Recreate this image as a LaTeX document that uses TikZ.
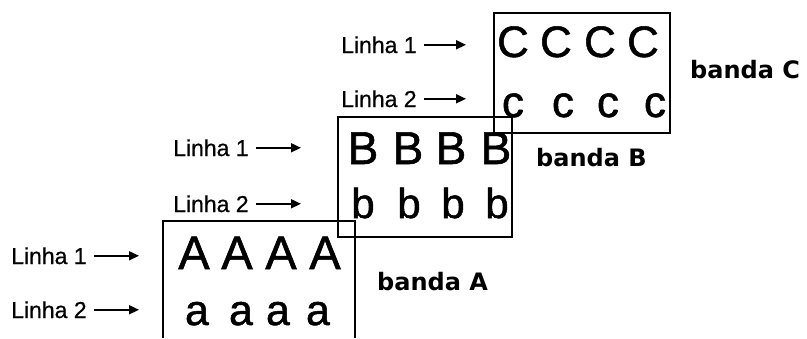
\documentclass[tikz,border=0pt]{standalone}
\usepackage{fontspec}
\setmainfont{Liberation Sans}
\newfontfamily\labfont{Liberation Sans}[FakeBold=0.7]
\newfontfamily\bigfont{Liberation Sans}[FakeBold=1.2]
\newfontfamily\bandfont{DejaVu Sans}
\usetikzlibrary{arrows.meta}
\tikzset{
  lab/.style={font=\labfont\fontsize{23}{23}\selectfont, anchor=base west, inner sep=0pt},
  arr/.style={-{Triangle[length=10pt,width=9pt]}, line width=1.8pt},
  band/.style={font=\bandfont\bfseries\fontsize{24}{24}\selectfont, anchor=base west, inner sep=0pt},
  box/.style={line width=1.2pt},
  big/.style={anchor=base, inner sep=0pt}
}
\begin{document}
\begin{tikzpicture}[x=1pt,y=-1pt]
\useasboundingbox (0,0) rectangle (807,338);
% boxes
\draw[box] (494,13) rectangle (670,133);
\draw[box] (338,117) rectangle (512,237);
\draw[box] (163,338) -- (163,221) -- (355,221) -- (355,338);
% band C letters
\foreach \x [count=\i] in {513,556,600,643} \node[big,font=\bigfont\fontsize{44}{44}\selectfont] (C\i) at (\x,57) {C};
\foreach \x [count=\i] in {513,563,608,655} \node[big,font=\bigfont\fontsize{44}{44}\selectfont] (c\i) at (\x,117) {c};
% band B letters
\foreach \x [count=\i] in {363,408,451,496} \node[big,font=\bigfont\fontsize{46}{46}\selectfont] (B\i) at (\x,164) {B};
\foreach \x [count=\i] in {363,409,453,497} \node[big,font=\bigfont\fontsize{42}{42}\selectfont] (b\i) at (\x,218) {b};
% band A letters
\foreach \x [count=\i] in {194,237,281,325} \node[big,font=\bigfont\fontsize{47}{47}\selectfont] (A\i) at (\x,269) {A};
\foreach \x [count=\i] in {197,241,278,318} \node[big,font=\bigfont\fontsize{43}{43}\selectfont] (a\i) at (\x,325) {a};
% labels
\node[lab] (lc1) at (341,53) {Linha 1};
\node[lab] (lc2) at (341,107) {Linha 2};
\node[lab] (lb1) at (173,156) {Linha 1};
\node[lab] (lb2) at (173,212) {Linha 2};
\node[lab] (la1) at (11,264) {Linha 1};
\node[lab] (la2) at (11,318) {Linha 2};
\coordinate (ec) at (466,0);
\coordinate (eb) at (301,0);
\coordinate (ea) at (139,0);
\draw[arr] ([xshift=7pt]lc1.east) -- (lc1.east -| ec);
\draw[arr] ([xshift=7pt]lc2.east) -- (lc2.east -| ec);
\draw[arr] ([xshift=7pt]lb1.east) -- (lb1.east -| eb);
\draw[arr] ([xshift=7pt]lb2.east) -- (lb2.east -| eb);
\draw[arr] ([xshift=7pt]la1.east) -- (la1.east -| ea);
\draw[arr] ([xshift=7pt]la2.east) -- (la2.east -| ea);
% band names
\node[band] (bc) at (690,78) {banda C};
\node[band] (bb) at (536,166) {banda B};
\node[band] (ba) at (377,290) {banda A};
\end{tikzpicture}
\end{document}
